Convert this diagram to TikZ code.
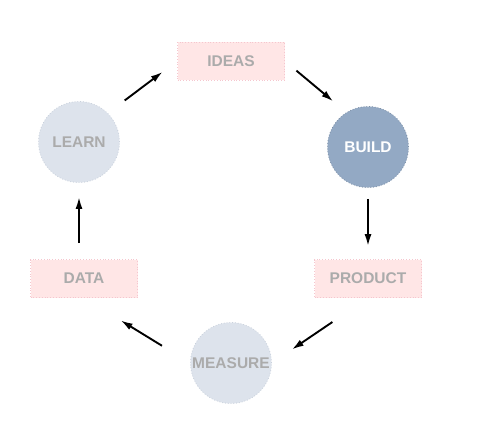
\documentclass[tikz,border=0pt]{standalone}
\usepackage{fontspec}
\setmainfont{Liberation Sans}
\usetikzlibrary{arrows.meta}

\definecolor{boxfill}{HTML}{FFE6E6}
\definecolor{boxline}{HTML}{F5C6CE}
\definecolor{softfill}{HTML}{DDE3EC}
\definecolor{softline}{HTML}{C9D1DC}
\definecolor{darkfill}{HTML}{93A9C4}
\definecolor{labelgray}{HTML}{ABABAB}

\begin{document}
\begin{tikzpicture}[
        x=1pt, y=-1pt,
        every node/.style={align=center, inner sep=0pt,
            font=\fontsize{15.5}{18}\selectfont\bfseries, text=labelgray},
        stagebox/.style={draw=boxline, fill=boxfill, dotted, line width=0.8pt,
            rectangle, minimum width=107pt, minimum height=38pt},
        stagecirc/.style={draw=softline, fill=softfill, dotted, line width=0.8pt,
            circle, minimum size=81pt},
        activecirc/.style={stagecirc, draw=darkfill!85!black, fill=darkfill, text=white},
        flow/.style={-{Latex[length=12pt,width=7pt]}, line width=1.9pt, black}
    ]
        \useasboundingbox (0,0) rectangle (477,437);

        \node[stagebox] (ideas) at (231,61) {IDEAS};
        \node[activecirc] (build) at (368,147) {BUILD};
        \node[stagebox] (product) at (368,278.5) {PRODUCT};
        \node[stagecirc] (measure) at (231,363) {MEASURE};
        \node[stagebox] (data) at (84,278.5) {DATA};
        \node[stagecirc] (learn) at (79,142) {LEARN};

        \draw[flow, shorten <=21pt, shorten >=18pt] (learn.45) -- (ideas.west);
        \draw[flow, shorten <=15pt, shorten >=17pt] (ideas.east) -- (build.122);
        \draw[flow, shorten <=11pt, shorten >=13pt] (build.south) -- (build.south |- product.north);
        \draw[flow, shorten <=43pt, shorten >=24pt] (product.south) -- (measure.east);
        \draw[flow, shorten <=33pt, shorten >=43pt] (measure.west) -- (data.south);
        \draw[flow, shorten <=16pt, shorten >=14pt] (data.north -| learn.south) -- (learn.south);
    \end{tikzpicture}
\end{document}
